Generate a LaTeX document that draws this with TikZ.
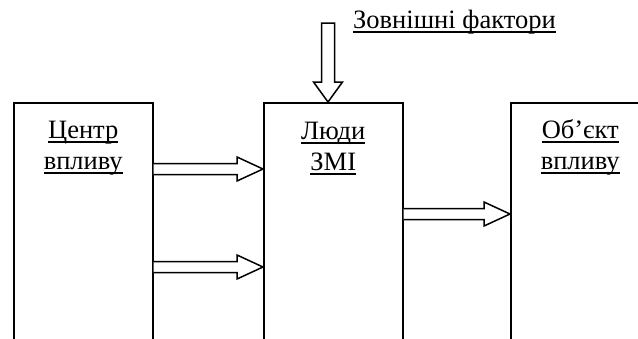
\documentclass[tikz,border=0pt]{standalone}
\usepackage{fontspec}
\setmainfont{Liberation Serif}
\usetikzlibrary{calc}
\newcommand\myul[1]{\setbox0\hbox{#1}\rlap{\rule[-4.8pt]{\wd0}{1.4pt}}\box0}
\tikzset{
  boxshape/.style={draw, line width=1.5pt, minimum width=139pt, minimum height=300pt, anchor=north west, inner sep=0pt},
  lbl/.style={anchor=base, inner sep=0pt, font=\fontsize{26.5}{30}\selectfont},
  blk/.style={draw, line width=1.5pt, line join=miter, fill=white}
}
\newcommand\harrow[2]{\draw[blk] let \p1=(#1), \p2=(#2) in
  (\x1,\y1+5.5pt) -- (\x2-26pt,\y1+5.5pt) -- (\x2-26pt,\y1+12pt) -- (\x2,\y1)
  -- (\x2-26pt,\y1-12pt) -- (\x2-26pt,\y1-5.5pt) -- (\x1,\y1-5.5pt);}
\newcommand\varrow[2]{\draw[blk] let \p1=(#1), \p2=(#2) in
  (\x1-6.5pt,\y1) -- (\x1-6.5pt,\y2+20pt) -- (\x1-14.5pt,\y2+20pt) -- (\x2,\y2)
  -- (\x1+14.5pt,\y2+20pt) -- (\x1+6.5pt,\y2+20pt) -- (\x1+6.5pt,\y1) -- cycle;}
\begin{document}
\begin{tikzpicture}[x=1pt,y=-1pt]
\useasboundingbox (0,0) rectangle (638,338);
\clip (0,0) rectangle (638,338);
\node[boxshape] (b1) at (13,102) {};
\node[boxshape] (b2) at (263,102) {};
\node[boxshape] (b3) at (510,102) {};
\node[lbl] (t1a) at ($(b1.north)+(0,36)$) {\myul{Центр}};
\node[lbl] (t1b) at ($(b1.north)+(0,67)$) {\myul{впливу}};
\node[lbl] (t2a) at ($(b2.north)+(0,37)$) {\myul{Люди}};
\node[lbl] (t2b) at ($(b2.north)+(0,68)$) {\myul{ЗМІ}};
\node[lbl] (t3a) at ($(b3.north)+(0,36)$) {\myul{Об’єкт}};
\node[lbl] (t3b) at ($(b3.north)+(0,67)$) {\myul{впливу}};
\node[lbl, anchor=base west] (ext) at (353,28) {\myul{Зовнішні фактори}};
\coordinate (s1) at ($(b1.north east)+(0,67)$);
\coordinate (e1) at ($(b2.north west)+(0,67)$);
\coordinate (s2) at ($(b1.north east)+(0,165)$);
\coordinate (e2) at ($(b2.north west)+(0,165)$);
\coordinate (s3) at ($(b2.north east)+(0,112)$);
\coordinate (e3) at ($(b3.north west)+(0,112)$);
\coordinate (top) at (328,23);
\coordinate (tip) at ($(b2.north west)+(65,0)$);
\harrow{s1}{e1}
\harrow{s2}{e2}
\harrow{s3}{e3}
\varrow{top}{tip}
\end{tikzpicture}
\end{document}
